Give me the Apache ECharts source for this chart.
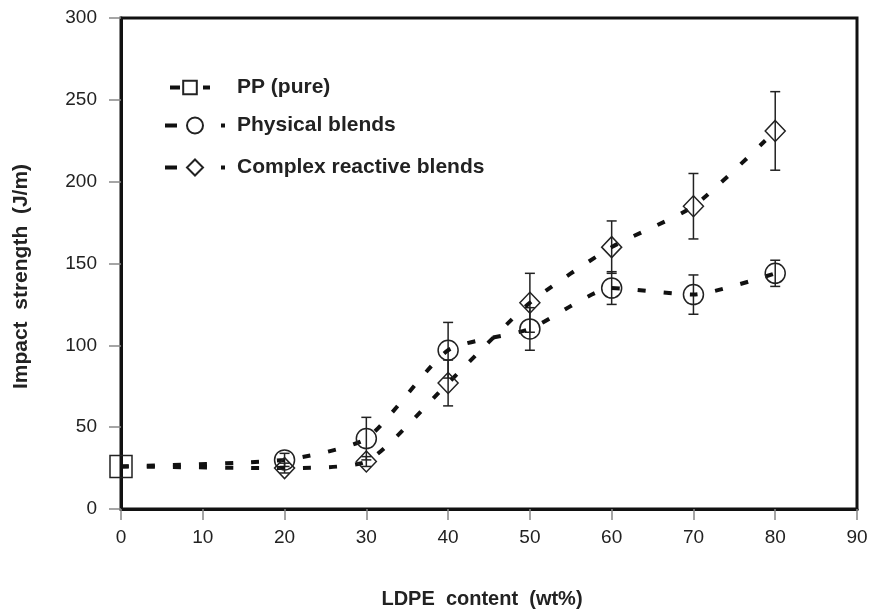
<!DOCTYPE html>
<html><head><meta charset="utf-8">
<script src="https://cdn.jsdelivr.net/npm/echarts@6/dist/echarts.min.js"></script>
<style>html,body{margin:0;padding:0;background:#fff}#c{width:876px;height:615px}</style>
</head><body><div id="c"></div>
<script>
var xTicks = [0,10,20,30,40,50,60,70,80,90];
var ppX = [0];
var ppY = [26];
var physX = [0,20,30,40,50,60,70,80];
var physY = [26,30,43,97,110,135,131,144];
var physErr = [0,4,13,17,13,10,12,8];
var compX = [0,20,30,40,50,60,70,80];
var compY = [26,25,29,77,126,160,185,231];
var compErr = [0,3,3,14,18,16,20,24];

var FONT = 'Liberation Sans, Arial, sans-serif';
function lineData(xs, ys){ return xs.map(function(x,i){ var d={value:[x,ys[i]]}; if(i===0&&x===0&&xs.length>1) d.symbol='none'; return d; }); }
function errData(xs, ys, es){ var out=[]; xs.forEach(function(x,i){ if(es[i]>0) out.push([x, ys[i]-es[i], ys[i]+es[i]]); }); return out; }
function errRender(params, api){
  var x=api.value(0), lo=api.coord([x,api.value(1)]), hi=api.coord([x,api.value(2)]);
  var w=5, st={stroke:'#222', lineWidth:1.5};
  return {type:'group', children:[
    {type:'line', shape:{x1:lo[0],y1:lo[1],x2:hi[0],y2:hi[1]}, style:st},
    {type:'line', shape:{x1:lo[0]-w,y1:lo[1],x2:lo[0]+w,y2:lo[1]}, style:st},
    {type:'line', shape:{x1:hi[0]-w,y1:hi[1],x2:hi[0]+w,y2:hi[1]}, style:st}
  ]};
}
var lineStyle = {color:'#111', width:4, type:[8,18]};
var legText = {fontFamily:FONT, fontSize:21, fontWeight:'bold', color:'#222'};
var chart = echarts.init(document.getElementById('c'));
chart.setOption({
  animation:false,
  textStyle:{fontFamily:FONT},
  grid:{left:121, right:19, top:18, bottom:106, show:true, borderColor:'#111', borderWidth:3,
    backgroundColor:'transparent', containLabel:false, outerBoundsMode:'none'},
  legend:[
    {left:168, top:77, padding:0, itemWidth:40, itemHeight:17, data:['PP (pure)'],
      lineStyle:{width:4, type:[10,23], color:'#111'},
      textStyle:Object.assign({padding:[0,0,0,22]}, legText)},
    {left:163, top:115, padding:0, itemWidth:60, itemHeight:20, data:['Physical blends'],
      lineStyle:{width:4, type:[12,44], color:'#111'},
      textStyle:Object.assign({padding:[0,0,0,7]}, legText)},
    {left:163, top:157, padding:0, itemWidth:60, itemHeight:20, data:['Complex reactive blends'],
      lineStyle:{width:4, type:[12,44], color:'#111'},
      textStyle:Object.assign({padding:[0,0,0,7]}, legText)}
  ],
  xAxis:{type:'value', min:0, max:90, interval:10,
    name:'LDPE  content  (wt%)', nameLocation:'middle', nameGap:80,
    nameTextStyle:{fontFamily:FONT, fontSize:20, fontWeight:'bold', color:'#222', padding:[0,14,0,0]},
    axisLine:{show:true, lineStyle:{color:'#111', width:3}},
    axisTick:{show:true, inside:false, length:11, lineStyle:{color:'#888', width:1.5}},
    axisLabel:{fontFamily:FONT, fontSize:19, color:'#222', margin:19, formatter:function(v){return xTicks.indexOf(v)>=0?String(v):'';}},
    splitLine:{show:false}},
  yAxis:{type:'value', min:0, max:300, interval:50,
    name:'Impact  strength  (J/m)', nameLocation:'middle', nameGap:89, nameRotate:90,
    nameTextStyle:{fontFamily:FONT, fontSize:21, fontWeight:'bold', color:'#222', padding:[0,26,0,0]},
    axisLine:{show:true, lineStyle:{color:'#111', width:3}},
    axisTick:{show:true, inside:false, length:12, lineStyle:{color:'#888', width:1.5}},
    axisLabel:{fontFamily:FONT, fontSize:19, color:'#222', margin:24},
    splitLine:{show:false}},
  series:[
    {type:'custom', name:'errP', renderItem:errRender, data:errData(physX,physY,physErr), z:1, silent:true},
    {type:'custom', name:'errC', renderItem:errRender, data:errData(compX,compY,compErr), z:1, silent:true},
    {type:'line', name:'Physical blends', data:lineData(physX,physY), smooth:0.2,
      symbol:'circle', symbolSize:20, showAllSymbol:true,
      lineStyle:lineStyle, itemStyle:{color:'rgba(255,255,255,0)', borderColor:'#222', borderWidth:1.5}, z:3},
    {type:'line', name:'Complex reactive blends', data:lineData(compX,compY), smooth:0.2,
      symbol:'diamond', symbolSize:[20,21], showAllSymbol:true,
      lineStyle:lineStyle, itemStyle:{color:'rgba(255,255,255,0)', borderColor:'#222', borderWidth:1.5}, z:3},
    {type:'line', name:'PP (pure)', data:lineData(ppX,ppY),
      symbol:'rect', symbolSize:22,
      lineStyle:lineStyle, itemStyle:{color:'rgba(255,255,255,0)', borderColor:'#222', borderWidth:1.5}, z:4}
  ]
});
</script></body></html>
